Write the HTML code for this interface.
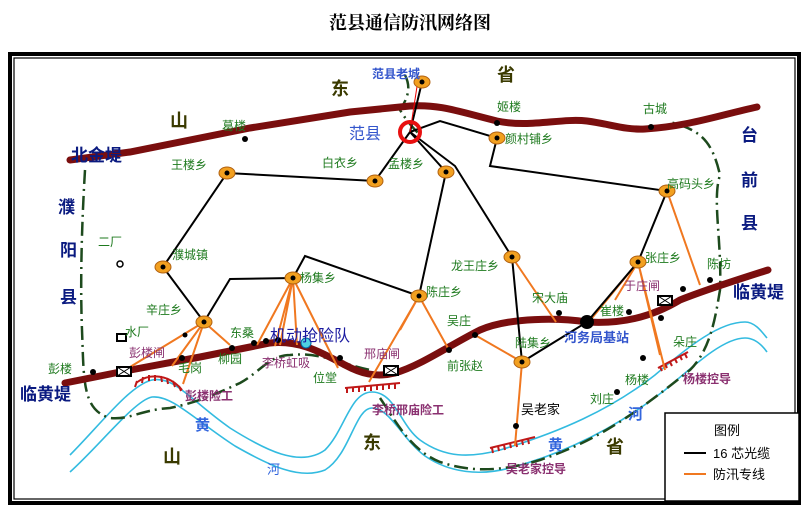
<!DOCTYPE html>
<html><head><meta charset="utf-8"><style>
body{margin:0;background:#fff;}
svg{display:block;font-family:"Liberation Sans","Noto Sans CJK SC",sans-serif;}
.g{fill:#1e7a1e;font-size:12px;}
.b{fill:#0a1a80;font-size:17px;font-weight:bold;}
.o{fill:#3a3a00;font-size:18px;font-weight:bold;}
.p{fill:#8a3070;font-size:12px;font-weight:bold;}
.c{fill:#3355cc;font-size:13px;font-weight:bold;}
</style></head><body>
<svg width="811" height="516" viewBox="0 0 811 516">
<text x="410" y="29" text-anchor="middle" font-size="18" font-weight="bold" font-family="'Liberation Serif','Noto Serif CJK SC',serif">范县通信防汛网络图</text>
<rect x="10" y="54" width="789" height="449" fill="none" stroke="#000" stroke-width="4"/>
<rect x="14" y="58" width="781" height="441" fill="none" stroke="#000" stroke-width="1.2"/>
<!-- river -->
<g fill="none" stroke="#33bbe0" stroke-width="1.6">
<path d="M70,455 C100,425 130,385 152,380 C175,376 190,400 230,428 C265,450 300,468 325,450 C345,430 350,392 372,392 C395,392 400,425 420,440 C445,458 470,458 500,450 C560,432 610,410 655,375 C690,345 720,322 745,322 C755,322 762,332 767,338"/>
<path d="M70,472 C100,445 135,400 152,397 C172,395 195,420 235,446 C270,466 300,480 325,470 C350,455 355,408 372,408 C390,408 403,440 425,456 C450,473 480,476 510,468 C570,452 620,425 665,390 C700,360 725,338 745,338 C755,338 762,345 767,352"/>
</g>
<!-- boundary -->
<g fill="none" stroke="#1d4a1d" stroke-width="2.5" stroke-dasharray="14,5,2,5">
<path d="M85,170 C82,220 80,280 82,330 C84,380 82,410 110,418 C130,420 140,410 170,408 C200,402 220,392 240,383 C260,372 270,355 290,355 C320,352 335,362 370,370"/>
<path d="M380,398 C395,420 410,450 440,462 C470,472 500,472 540,460 C600,440 640,410 690,370 C710,350 715,320 720,290 C722,240 712,200 720,175 C712,140 700,130 670,122"/>
<path d="M405,75 C410,85 410,95 400,110 C405,118 410,125 420,135"/>
</g>
<!-- levees -->
<g fill="none" stroke="#7a0e0e" stroke-width="7" stroke-linecap="round">
<path d="M70,160 L130,152 L250,128 L350,112 L410,106 C440,104 460,112 497,121 C530,128 560,118 587,121 C610,124 625,130 645,129 C690,126 720,115 757,107"/>
<path d="M65,383 L125,371 L200,357 L270,343 C300,340 320,352 345,365 C360,373 375,378 395,373 C420,366 450,345 480,330 C510,317 560,318 587,322 C620,324 650,318 680,300 C700,292 730,282 768,270"/>
</g>
<!-- hatches -->
<g fill="none" stroke="#c01818" stroke-width="2">
<path d="M136,383 C150,372 170,375 182,390"/><path d="M137,381 l-2,6 M143,377 l-1,6 M149,375 l0,6 M155,375 l0,6 M161,376 l1,6 M167,378 l1,6 M173,381 l2,6 M179,386 l2,5"/>
<path d="M345,388 L400,383"/><path d="M347,388 l0,5 M353,387 l0,5 M359,387 l0,5 M365,386 l0,5 M371,386 l0,5 M377,385 l0,5 M383,385 l0,5 M389,384 l0,5 M395,384 l0,5"/>
<path d="M490,448 L535,437"/><path d="M492,448 l1,5 M498,446 l1,5 M504,445 l1,5 M510,443 l1,5 M516,442 l1,5 M522,440 l1,5 M528,439 l1,5"/>
<path d="M658,368 L688,352"/><path d="M660,367 l2,4 M665,364 l2,4 M670,362 l2,4 M675,359 l2,4 M680,356 l2,4 M685,354 l2,4"/>
</g>
<!-- orange lines -->
<g stroke="#f07820" stroke-width="2" fill="none">
<path d="M204,322 L130,367 M204,322 L172,366 M204,322 L183,384 M204,322 L230,345"/>
<path d="M293,278 L257,345 M293,278 L280,345 M293,278 L297,345 M293,278 L338,368 M293,278 L275,346"/>
<path d="M419,296 L369,382 M419,296 L449,350 M419,296 L400,330"/>
<path d="M512,257 L556,322 M475,335 L522,362 M522,362 L515,446"/>
<path d="M638,262 L592,318 M638,262 L660,355 M638,262 L665,370 M638,262 L615,300 M667,191 L700,285"/>
</g>
<!-- black lines -->
<g stroke="#000" stroke-width="2" fill="none">
<path d="M410,132 L422,82 M410,132 L440,121 L497,138 L490,166 L667,191 L638,262 L587,322 L522,362 L512,257 L455,166 L410,132"/>
<path d="M410,132 L375,181 L227,173 L163,267 L204,322 L230,279 L293,278 L305,256 L419,296 L446,172 L410,132"/>
</g>
<path d="M410,132 L418,80" stroke="#e00" stroke-width="1"/>
<!-- nodes -->
<g fill="#f2a020" stroke="#b06010" stroke-width="1">
<ellipse cx="422" cy="82" rx="8" ry="6"/><ellipse cx="227" cy="173" rx="8" ry="6"/><ellipse cx="375" cy="181" rx="8" ry="6"/><ellipse cx="446" cy="172" rx="8" ry="6"/><ellipse cx="163" cy="267" rx="8" ry="6"/><ellipse cx="293" cy="278" rx="8" ry="6"/><ellipse cx="419" cy="296" rx="8" ry="6"/><ellipse cx="497" cy="138" rx="8" ry="6"/><ellipse cx="512" cy="257" rx="8" ry="6"/><ellipse cx="667" cy="191" rx="8" ry="6"/><ellipse cx="638" cy="262" rx="8" ry="6"/><ellipse cx="204" cy="322" rx="8" ry="6"/><ellipse cx="522" cy="362" rx="8" ry="6"/>
</g>
<g fill="#000">
<circle cx="422" cy="82" r="2.5"/><circle cx="227" cy="173" r="2.5"/><circle cx="375" cy="181" r="2.5"/><circle cx="446" cy="172" r="2.5"/><circle cx="163" cy="267" r="2.5"/><circle cx="293" cy="278" r="2.5"/><circle cx="419" cy="296" r="2.5"/><circle cx="497" cy="138" r="2.5"/><circle cx="512" cy="257" r="2.5"/><circle cx="667" cy="191" r="2.5"/><circle cx="638" cy="262" r="2.5"/><circle cx="204" cy="322" r="2.5"/><circle cx="522" cy="362" r="2.5"/>
<circle cx="587" cy="322" r="7"/>
<circle cx="245" cy="139" r="3"/><circle cx="497" cy="123" r="3"/><circle cx="651" cy="127" r="3"/><circle cx="93" cy="372" r="3"/><circle cx="182" cy="358" r="3"/><circle cx="232" cy="348" r="3"/><circle cx="254" cy="343" r="3"/><circle cx="266" cy="341" r="3"/><circle cx="278" cy="340" r="3"/><circle cx="340" cy="358" r="3"/><circle cx="449" cy="350" r="3"/><circle cx="475" cy="335" r="3"/><circle cx="559" cy="313" r="3"/><circle cx="629" cy="312" r="3"/><circle cx="661" cy="318" r="3"/><circle cx="683" cy="289" r="3"/><circle cx="710" cy="280" r="3"/><circle cx="643" cy="358" r="3"/><circle cx="617" cy="392" r="3"/><circle cx="516" cy="426" r="3"/><circle cx="185" cy="335" r="2.5"/>
</g>
<circle cx="410" cy="132" r="10" fill="none" stroke="#e81010" stroke-width="4"/>
<circle cx="306" cy="343" r="5" fill="#4fd0e0" stroke="#0060a0"/>
<circle cx="120" cy="264" r="3" fill="none" stroke="#000" stroke-width="1.5"/>
<rect x="117" y="334" width="9" height="7" fill="#fff" stroke="#000" stroke-width="2"/>
<g fill="#fff" stroke="#000" stroke-width="2">
<rect x="117" y="367" width="14" height="9"/><rect x="384" y="366" width="14" height="9"/><rect x="658" y="296" width="14" height="9"/>
</g>
<path d="M117,367 L131,376 M131,367 L117,376 M384,366 L398,375 M398,366 L384,375 M658,296 L672,305 M672,296 L658,305" stroke="#000"/>
<!-- labels -->
<g class="g">
<text x="222" y="130">葛楼</text><text x="171" y="169">王楼乡</text><text x="322" y="167">白衣乡</text><text x="388" y="168">孟楼乡</text><text x="98" y="246">二厂</text><text x="172" y="259">濮城镇</text><text x="300" y="282">杨集乡</text><text x="146" y="314">辛庄乡</text><text x="125" y="336">水厂</text><text x="230" y="337">东桑</text><text x="218" y="363">柳园</text><text x="178" y="372">毛岗</text><text x="48" y="373">彭楼</text><text x="313" y="382">位堂</text>
<text x="497" y="111">姬楼</text><text x="643" y="113">古城</text><text x="505" y="143">颜村铺乡</text><text x="667" y="188">高码头乡</text><text x="451" y="270">龙王庄乡</text><text x="426" y="296">陈庄乡</text><text x="532" y="302">宋大庙</text><text x="447" y="325">吴庄</text><text x="447" y="370">前张赵</text><text x="515" y="347">陆集乡</text><text x="600" y="315">崔楼</text><text x="645" y="262">张庄乡</text><text x="707" y="268">陈坊</text><text x="673" y="346">朵庄</text><text x="625" y="384">杨楼</text><text x="590" y="403">刘庄</text>
</g>
<text x="521" y="414" font-size="13" fill="#000">吴老家</text>
<g class="p" style="font-weight:normal">
<text x="129" y="357">彭楼闸</text><text x="262" y="367">李桥虹吸</text><text x="364" y="358">邢庙闸</text><text x="624" y="290">于庄闸</text>
</g>
<g class="p">
<text x="185" y="400">彭楼险工</text><text x="372" y="414">李桥邢庙险工</text><text x="506" y="473">吴老家控导</text><text x="683" y="383">杨楼控导</text>
</g>
<text x="270" y="341" font-size="16" fill="#1a1aa0">机动抢险队</text>
<text x="564" y="342" class="c">河务局基站</text>
<text x="372" y="78" class="c" style="font-size:12px">范县老城</text>
<text x="349" y="139" class="c" style="font-size:16px;font-weight:normal">范县</text>
<g class="b">
<text x="71" y="161">北金堤</text><text x="58" y="213">濮</text><text x="60" y="256">阳</text><text x="60" y="303">县</text><text x="20" y="400">临黄堤</text>
<text x="741" y="141">台</text><text x="741" y="186">前</text><text x="741" y="229">县</text><text x="733" y="298">临黄堤</text>
</g>
<g class="o">
<text x="170" y="127">山</text><text x="331" y="95">东</text><text x="497" y="81">省</text><text x="163" y="463">山</text><text x="363" y="449">东</text><text x="606" y="453">省</text>
</g>
<g fill="#3366dd" font-size="15" font-weight="bold"><text x="195" y="430">黄</text><text x="628" y="419">河</text><text x="548" y="450">黄</text></g>
<text x="267" y="474" fill="#3366dd" font-size="13">河</text>
<!-- legend -->
<rect x="665" y="413" width="134" height="88" fill="#fff" stroke="#000" stroke-width="1.5"/>
<text x="714" y="435" font-size="13">图例</text>
<line x1="684" y1="453" x2="706" y2="453" stroke="#000" stroke-width="2"/>
<text x="713" y="458" font-size="13">16 芯光缆</text>
<line x1="684" y1="474" x2="706" y2="474" stroke="#f07820" stroke-width="2"/>
<text x="713" y="479" font-size="13">防汛专线</text>
</svg>
</body></html>
